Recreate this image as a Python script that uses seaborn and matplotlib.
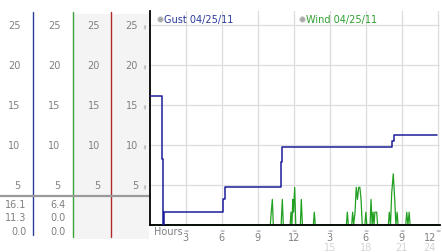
import matplotlib
matplotlib.use("Agg")
import matplotlib.pyplot as plt
import matplotlib.transforms as mtransforms
from matplotlib.lines import Line2D
from matplotlib.patches import Rectangle
import pandas as pd
import seaborn as sns

# ---------------- data ----------------
gust_hours = [0.0, 1.0, 1.1, 1.18, 6.15, 6.25, 10.92, 11.05, 20.15, 20.3, 23.9]
gust_vals = [16.1, 8.2, 0.0, 1.6, 3.2, 4.8, 7.9, 9.7, 10.5, 11.3, 11.3]

wind_hours = [0.0,
              10.05, 10.13, 10.22, 10.3,
              10.95, 11.05, 11.13,
              11.7, 11.77, 11.85, 11.92, 11.98, 12.08, 12.17,
              12.55, 12.63, 12.72,
              13.63, 13.71, 13.79,
              16.38, 16.46, 16.54,
              16.82, 16.9, 16.98, 17.1, 17.2, 17.3, 17.4, 17.5, 17.6, 17.7,
              17.92, 18.0, 18.08,
              18.35, 18.43, 18.52, 18.6, 18.68, 18.75, 18.83, 18.9, 18.98,
              19.87, 19.95, 20.05, 20.15, 20.28, 20.4, 20.5, 20.6, 20.68,
              21.32, 21.4, 21.5, 21.6, 21.68,
              24.1]
wind_vals = [0.0,
             0.0, 1.6, 3.2, 0.0,
             0.0, 3.2, 0.0,
             0.0, 1.6, 0.0, 3.2, 1.6, 4.7, 0.0,
             0.0, 3.2, 0.0,
             0.0, 1.6, 0.0,
             0.0, 1.6, 0.0,
             0.0, 1.6, 0.0, 1.6, 4.7, 3.2, 4.7, 4.7, 3.2, 0.0,
             0.0, 1.6, 0.0,
             0.0, 3.2, 0.0, 1.6, 0.0, 1.6, 1.6, 1.6, 0.0,
             0.0, 1.6, 0.0, 4.0, 6.4, 3.2, 0.0, 1.6, 0.0,
             0.0, 1.6, 0.0, 1.6, 0.0,
             0.0]

y_ticks = [5, 10, 15, 20, 25]
x_ticks = [3, 6, 9, 12, 15, 18, 21, 24]
x_labels_top = ["3", "6", "9", "12", "3", "6", "9", "12"]
x_labels_bottom = ["", "", "", "", "15", "18", "21", "24"]
legend_labels = ["Gust 04/25/11", "Wind 04/25/11"]
gust_stats = ["16.1", "11.3", "0.0"]
wind_stats = ["6.4", "0.0", "0.0"]

# ---------------- styling ----------------
W, H = 442, 253
GUST_C = "#1c1c9a"
WIND_C = "#22a022"
TXT_C = "#808080"

sns.set_theme(style="white")
plt.rcParams['font.family'] = ['DejaVu Sans']

fig = plt.figure(figsize=(W / 100, H / 100), dpi=100)
fig.patch.set_facecolor("white")

def fx(px):
    return px / W

def fy(py):
    return 1 - py / H

L, R, T, B = 149.5, 440.0, 12.0, 226.0
PX_PER_H = 12.02
PX_PER_U = 8.0
ax = fig.add_axes([fx(L), fy(B), (R - L) / W, (B - T) / H])
ax.set_zorder(3)
ax.set_facecolor("none")
ax.set_xlim(0, (R - L) / PX_PER_H)
ax.set_ylim(0, (B - T) / PX_PER_U)

# left panel background & lines
fig.patches.append(Rectangle((fx(73.5), fy(240)), fx(148.5) - fx(73.5), fy(15) - fy(240),
                             transform=fig.transFigure, facecolor="#f4f4f4",
                             edgecolor="none", zorder=0))
for xpx, col, y1 in [(33.3, "#2a3f9c", 236), (72.5, "#3aa33a", 238), (111.2, "#b02828", 238)]:
    fig.lines.append(Line2D([fx(xpx), fx(xpx)], [fy(12.5), fy(y1)],
                            transform=fig.transFigure, color=col, lw=1.0, zorder=1))
fig.lines.append(Line2D([fx(0), fx(149)], [fy(197), fy(197)], transform=fig.transFigure,
                        color="#9a9a9a", lw=1.6, zorder=2))

# grid
ax.set_xticks(x_ticks)
ax.set_yticks(y_ticks)
ax.grid(True, color="#dcdcdc", lw=0.9)
ax.set_axisbelow(True)
ax.tick_params(length=0, labelbottom=False, labelleft=False)
for s in ["top", "right"]:
    ax.spines[s].set_visible(False)
for s in ["left", "bottom"]:
    ax.spines[s].set_color("black")
    ax.spines[s].set_linewidth(1.3)
    ax.spines[s].set_zorder(4)

# data lines
gust_df = pd.DataFrame({"hour": gust_hours, "mph": gust_vals})
wind_df = pd.DataFrame({"hour": wind_hours, "mph": wind_vals})
sns.lineplot(data=wind_df, x="hour", y="mph", ax=ax, color=WIND_C, lw=0.9,
             estimator=None, sort=False, clip_on=False, zorder=3)
sns.lineplot(data=gust_df, x="hour", y="mph", ax=ax, color=GUST_C, lw=1.1,
             drawstyle="steps-post", estimator=None, sort=False, zorder=5)
ax.set_xlabel("")
ax.set_ylabel("")

# left-panel y labels (four columns)
ytr = mtransforms.blended_transform_factory(fig.transFigure, ax.transData)
for xr in [20.5, 60.5, 100, 138]:
    for v in y_ticks:
        ax.text(fx(xr), v, str(v), transform=ytr, ha="right", va="center",
                fontsize=7, color=TXT_C, clip_on=False)
for v in y_ticks:
    ax.text(fx(145.5), v, "≈", transform=ytr, ha="center", va="center",
            fontsize=4.5, color="#999999", rotation=90, clip_on=False)

# x labels
xtr = mtransforms.blended_transform_factory(ax.transData, fig.transFigure)
last = x_ticks[-1]
for h, top, bot in zip(x_ticks, x_labels_top, x_labels_bottom):
    ax.text(h, fy(231), "≈", transform=xtr, ha="center", va="center",
            fontsize=4.5, color="#999999", clip_on=False)
    if h == last:
        tr = mtransforms.offset_copy(xtr, fig=fig, x=-2, y=0, units="dots")
        ha = "right"
    else:
        tr = xtr
        ha = "center"
    ax.text(h, fy(238.5), top, transform=tr, ha=ha, va="center",
            fontsize=7, color=TXT_C, clip_on=False)
    if bot:
        ax.text(h, fy(248.5), bot, transform=tr, ha=ha, va="center",
                fontsize=7, color="#d4d4d4", clip_on=False)
fig.text(fx(154), fy(232), "Hours", ha="left", va="center", fontsize=7, color=TXT_C)

# legend
for xc, lab, col in [(159.5, legend_labels[0], "#2a3a9a"), (301.5, legend_labels[1], "#2f9f2f")]:
    fig.lines.append(Line2D([fx(xc)], [fy(19.5)], transform=fig.transFigure, marker="o",
                            markersize=4, markerfacecolor="#a8a8a8",
                            markeredgecolor="#d0d0d0", markeredgewidth=0.6, ls="none",
                            zorder=5))
    fig.text(fx(xc + 5), fy(19.5), lab, ha="left", va="center", fontsize=7, color=col,
             zorder=5)

# stats table
for i, (g, w) in enumerate(zip(gust_stats, wind_stats)):
    yy = [205, 218.5, 232][i]
    fig.text(fx(26.5), fy(yy), g, ha="right", va="center", fontsize=7, color=TXT_C)
    fig.text(fx(65.5), fy(yy), w, ha="right", va="center", fontsize=7, color=TXT_C)

fig.savefig("out.png", dpi=100)
